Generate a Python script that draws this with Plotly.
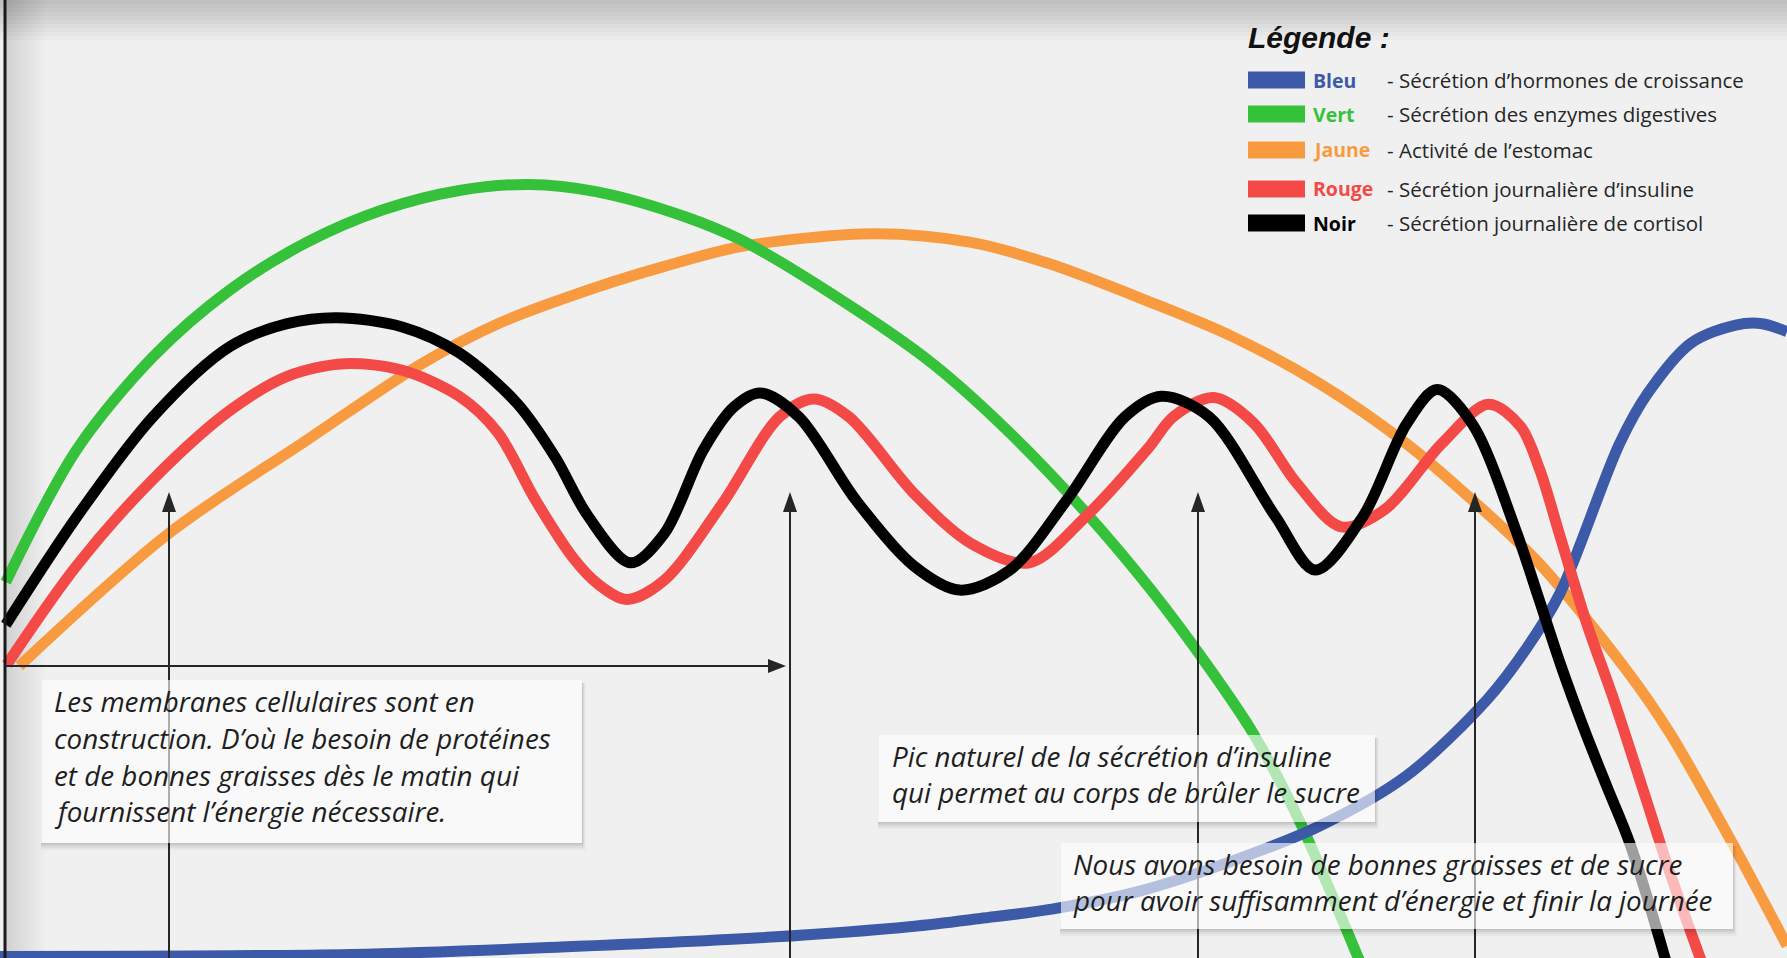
import plotly.graph_objects as go

# Figure size in pixels; decorations are placed in pixel units and converted to paper fractions
W, H = 1787, 958


def px(x):
    return x / W


def py(y):
    return 1 - y / H


# ---- Curves: x = progression of the day (0-100), y = relative level (0 = baseline) ----
green_x = [0.32, 4.27, 8.55, 12.88, 17.16, 21.43, 25.70, 29.59, 33.42, 38.30, 41.52, 47.90,
           52.23, 56.51, 60.78, 64.48, 67.67, 70.15, 72.71, 76.02, 76.5]
green_y = [12.6, 32.4, 46.4, 56.5, 63.6, 68.5, 71.4, 72.3, 71.2, 67.5, 63.9, 53.5,
           45.3, 35.0, 23.0, 11.2, -0.3, -10.2, -23.2, -43.9, -47.0]

orange_x = [1.08, 9.44, 17.16, 23.60, 27.87, 33.42, 37.18, 41.52, 48.98, 54.34, 58.61, 64.22,
            68.94, 73.79, 78.70, 82.40, 86.10, 91.01, 93.43, 96.94, 100.0]
orange_y = [0.0, 19.9, 33.9, 45.4, 51.4, 56.9, 60.0, 63.0, 64.9, 63.6, 60.5, 54.8,
            49.5, 42.5, 33.4, 24.9, 15.5, -0.6, -10.0, -26.6, -42.0]

black_x = [0.32, 4.27, 8.55, 12.88, 16.07, 18.88, 22.51, 25.70, 28.95, 31.06, 32.91, 35.27,
           37.18, 39.35, 41.07, 42.54, 44.71, 47.90, 51.15, 53.70, 56.51, 59.69, 62.95, 64.99,
           67.67, 71.36, 73.60, 76.28, 78.70, 80.42, 82.40, 84.89, 86.10, 87.37, 88.65, 89.92,
           91.20, 93.18, 93.5]
black_y = [6.2, 22.3, 37.4, 48.0, 51.4, 52.3, 50.9, 47.0, 39.4, 31.4, 22.5, 15.5,
           19.9, 32.4, 38.9, 41.0, 37.4, 24.9, 15.0, 11.4, 14.4, 24.9, 37.4, 40.5,
           37.4, 22.5, 14.4, 22.5, 36.3, 41.5, 36.3, 19.9, 10.2, -0.1, -9.5, -18.1,
           -26.6, -43.9, -47.1]

red_x = [0.38, 4.27, 8.55, 12.88, 16.07, 19.26, 22.51, 25.70, 27.87, 29.97, 32.14, 33.42,
         35.08, 37.18, 40.43, 43.62, 45.54, 47.51, 51.15, 54.34, 57.59, 60.78, 64.22, 65.69,
         67.92, 70.15, 72.58, 75.06, 77.49, 80.68, 83.29, 85.08, 86.16, 87.31, 88.78, 90.31,
         91.84, 93.43, 95.15, 95.6]
red_y = [0.2, 15.0, 28.0, 38.4, 43.5, 45.4, 44.4, 40.5, 35.0, 24.9, 16.0, 12.4,
         10.0, 12.9, 24.4, 37.4, 40.1, 37.4, 25.9, 18.4, 15.5, 22.5, 32.6, 37.5,
         40.3, 36.5, 27.4, 20.9, 23.5, 33.4, 39.3, 36.0, 29.5, 19.4, 6.5, -5.1,
         -17.7, -30.9, -43.9, -47.1]

blue_x = [0.0, 19.64, 31.38, 43.18, 51.02, 54.85, 58.86, 63.78, 68.94, 73.79, 78.70, 83.23,
          85.46, 87.31, 90.63, 92.22, 94.64, 97.13, 98.60, 100.0]
blue_y = [-43.6, -43.3, -42.2, -40.7, -39.1, -37.9, -36.5, -33.8, -29.3, -24.1, -16.5, -5.0,
          2.8, 11.0, 33.4, 41.0, 48.5, 51.2, 51.4, 50.2]

COL_BLUE = "#3c5aa8"
COL_GREEN = "#36c13b"
COL_ORANGE = "#f89b40"
COL_RED = "#f34a48"
COL_BLACK = "#000000"

# ---- Legend content ----
legend_keys = ["Bleu", "Vert", "Jaune", "Rouge", "Noir"]
legend_desc = [
    "- Sécrétion d’hormones de croissance",
    "- Sécrétion des enzymes digestives",
    "- Activité de l’estomac",
    "- Sécrétion journalière d’insuline",
    "- Sécrétion journalière de cortisol",
]
legend_colors = [COL_BLUE, COL_GREEN, COL_ORANGE, COL_RED, COL_BLACK]
legend_rows_y = [80, 114, 150, 189, 223]

# ---- Callout texts ----
note1 = ["Les membranes cellulaires sont en",
         "construction. D’où le besoin de protéines",
         "et de bonnes graisses dès le matin qui",
         "fournissent l’énergie nécessaire."]
note2 = ["Pic naturel de la sécrétion d’insuline",
         "qui permet au corps de brûler le sucre"]
note3 = ["Nous avons besoin de bonnes graisses et de sucre",
         "pour avoir suffisamment d’énergie et finir la journée"]

fig = go.Figure()

LW = 11
for xs, ys, col, name in [
    (orange_x, orange_y, COL_ORANGE, "Jaune"),
    (green_x, green_y, COL_GREEN, "Vert"),
    (blue_x, blue_y, COL_BLUE, "Bleu"),
    (red_x, red_y, COL_RED, "Rouge"),
    (black_x, black_y, COL_BLACK, "Noir"),
]:
    fig.add_trace(go.Scatter(
        x=xs, y=ys, mode="lines", name=name,
        line=dict(color=col, width=LW, shape="spline", smoothing=0.9),
        hoverinfo="skip",
    ))

shapes = []

# Soft shading along the top edge and next to the vertical axis
for i in range(10):
    h = 4 * (i + 1)
    shapes.append(dict(type="rect", xref="paper", yref="paper", layer="below",
                       x0=0, x1=1, y0=py(h), y1=1, line_width=0,
                       fillcolor="rgba(0,0,0,0.018)"))
for i in range(10):
    w = 4 * (i + 1)
    shapes.append(dict(type="rect", xref="paper", yref="paper", layer="below",
                       x0=px(5), x1=px(5 + w), y0=0, y1=py(0), line_width=0,
                       fillcolor="rgba(0,0,0,0.012)"))

# Vertical axis line
shapes.append(dict(type="line", xref="paper", yref="paper", layer="above",
                   x0=px(5), x1=px(5), y0=0, y1=1,
                   line=dict(color="#1a1a1a", width=3)))

ARROW_COL = "#262626"
# Horizontal arrow along the baseline
shapes.append(dict(type="line", xref="paper", yref="paper", layer="above",
                   x0=px(5), x1=px(772), y0=py(666), y1=py(666),
                   line=dict(color=ARROW_COL, width=2)))
shapes.append(dict(type="path", xref="paper", yref="paper", layer="above",
                   path=f"M {px(786)},{py(666)} L {px(768)},{py(659)} L {px(768)},{py(673)} Z",
                   fillcolor=ARROW_COL, line_width=0))

# Vertical arrows pointing at the moments of the day
for ax in [169, 790, 1198, 1475]:
    shapes.append(dict(type="line", xref="paper", yref="paper", layer="above",
                       x0=px(ax), x1=px(ax), y0=0, y1=py(508),
                       line=dict(color=ARROW_COL, width=2)))
    shapes.append(dict(type="path", xref="paper", yref="paper", layer="above",
                       path=f"M {px(ax)},{py(492)} L {px(ax - 7)},{py(512)} L {px(ax + 7)},{py(512)} Z",
                       fillcolor=ARROW_COL, line_width=0))

# Callout boxes (semi-transparent white with a soft drop shadow below and to the right)
boxes = [(42, 582, 680, 843), (879, 1375, 735, 822), (1061, 1733, 843, 929)]
for x0, x1, y0, y1 in boxes:
    for d, a in [(7, 0.035), (5, 0.04), (3, 0.05), (1.5, 0.06)]:
        # bottom strip
        shapes.append(dict(type="rect", xref="paper", yref="paper", layer="above",
                           x0=px(x0 - 1), x1=px(x1 + d * 0.5), y0=py(y1 + d), y1=py(y1),
                           line_width=0, fillcolor=f"rgba(0,0,0,{a})"))
        # right strip
        shapes.append(dict(type="rect", xref="paper", yref="paper", layer="above",
                           x0=px(x1), x1=px(x1 + d * 0.5), y0=py(y1), y1=py(y0 + 3),
                           line_width=0, fillcolor=f"rgba(0,0,0,{a})"))
    shapes.append(dict(type="rect", xref="paper", yref="paper", layer="above",
                       x0=px(x0), x1=px(x1), y0=py(y1), y1=py(y0),
                       line_width=0, fillcolor="rgba(255,255,255,0.62)"))

# Legend swatches
for yc, col in zip(legend_rows_y, legend_colors):
    shapes.append(dict(type="rect", xref="paper", yref="paper", layer="above",
                       x0=px(1248), x1=px(1305), y0=py(yc + 8.5), y1=py(yc - 8.5),
                       line_width=0, fillcolor=col))

annotations = []
TEXT_FONT = "Open Sans"


def add_lines(lines, x_left, ys, size=27.8):
    for t, yc in zip(lines, ys):
        annotations.append(dict(
            text=f"<i>{t}</i>", x=px(x_left), y=py(yc), xref="paper", yref="paper",
            xanchor="left", yanchor="middle", showarrow=False,
            font=dict(family=TEXT_FONT, size=size, color="#1e1e1e")))


add_lines(note1, 52, [701, 738, 775, 811])
add_lines(note2, 890, [756, 792])
add_lines(note3, 1071, [864, 900])

# Legend title and rows
annotations.append(dict(
    text="<b><i>Légende :</i></b>", x=px(1246), y=py(37), xref="paper", yref="paper",
    xanchor="left", yanchor="middle", showarrow=False,
    font=dict(family="Liberation Sans", size=30, color="#111111")))
for key, desc, col, yc in zip(legend_keys, legend_desc, legend_colors, legend_rows_y):
    annotations.append(dict(
        text=f"<b>{key}</b>", x=px(1311), y=py(yc), xref="paper", yref="paper",
        xanchor="left", yanchor="middle", showarrow=False,
        font=dict(family=TEXT_FONT, size=19.5, color=col)))
    annotations.append(dict(
        text=desc, x=px(1385), y=py(yc), xref="paper", yref="paper",
        xanchor="left", yanchor="middle", showarrow=False,
        font=dict(family=TEXT_FONT, size=20.5, color="#262626")))

fig.update_layout(
    width=W, height=H, autosize=False,
    margin=dict(l=0, r=0, t=0, b=0, pad=0),
    paper_bgcolor="#f0f0f0", plot_bgcolor="#f0f0f0",
    showlegend=False,
    xaxis=dict(range=[0, 100], visible=False, fixedrange=True),
    yaxis=dict(range=[-43.84, 100], visible=False, fixedrange=True),
    shapes=shapes, annotations=annotations,
)

fig.write_html("out.html", config={"displayModeBar": False})
